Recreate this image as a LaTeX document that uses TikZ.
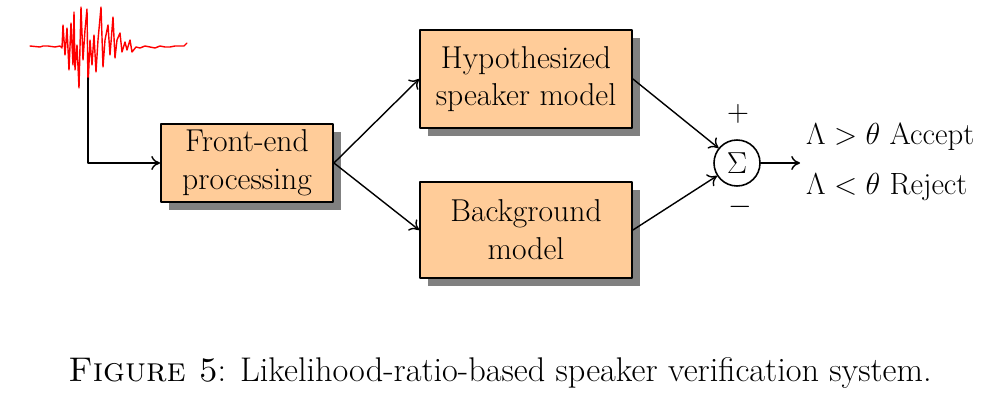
\documentclass[tikz,border=0pt]{standalone}
\usepackage{amsmath}
\usepackage{tikz}
\usetikzlibrary{arrows,arrows.meta,shadows}
\definecolor{peach}{rgb}{1,0.8,0.6}
\definecolor{shade}{rgb}{0.5,0.5,0.5}

\begin{document}
\begin{tikzpicture}[line cap=round,line join=round,>={To[length=5pt,width=8pt]},x=0.02cm,y=-0.02cm,
  blockbox/.style={draw,line width=1.1pt,fill=peach,align=center,inner sep=0pt,
    font=\fontsize{18}{21.5}\selectfont,
    drop shadow={opacity=1,fill=shade,shadow xshift=0.16cm,shadow yshift=-0.16cm}},
  conn/.style={->,line width=0.8pt}]
\useasboundingbox (0,0) rectangle (1000,402);
\draw[line width=0.8pt,color=red] plot coordinates {(30,46) (40,47) (43,46) (48,46) (55,47) (60,46) (62,48) (63,25) (65,55) (67,28) (69,70) (71,23) (73,65) (74,12) (75,70) (77,45) (79,88) (81,7) (83,60) (85,30) (87,9) (88,87) (90,40) (92,65) (94,35) (96,72) (98,40) (101,7) (103,67) (105,40) (108,25) (110,55) (113,17) (115,58) (117,40) (120,33) (122,52) (125,42) (127,50) (130,40) (132,52) (136,47) (140,48) (145,46) (150,47) (155,48) (160,46) (165,47) (170,47) (175,46) (180,46) (184,46) (187,43)};
\coordinate (wave) at (88,78);
\node[blockbox,minimum width=3.44cm,minimum height=1.56cm] (front) at (247,163) {Front-end\\processing};
\node[blockbox,minimum width=4.24cm,minimum height=1.96cm] (hyp) at (526,79) {Hypothesized\\speaker model};
\node[blockbox,minimum width=4.24cm,minimum height=1.92cm] (bg) at (526,230) {Background\\model};
\node[draw,circle,line width=0.9pt,minimum size=0.92cm,inner sep=0pt,font=\fontsize{18}{21}\selectfont] (sum) at (737,163) {$\Sigma$};
\node[font=\fontsize{18}{21}\selectfont] (plus) at (738,114) {$+$};
\node[font=\fontsize{18}{21}\selectfont] (minus) at (740,207) {$-$};
\coordinate (out) at (800,163);
\node[anchor=west,font=\fontsize{17.5}{21}\selectfont] (accept) at (800,137) {$\Lambda > \theta$ Accept};
\node[anchor=west,font=\fontsize{17.5}{21}\selectfont] (reject) at (800,187) {$\Lambda < \theta$ Reject};
\draw [conn] (wave) |- (front.west);
\draw [conn] (front.east) -- (hyp.west);
\draw [conn] (front.east) -- (bg.west);
\draw [conn] (hyp.east) -- (sum);
\draw [conn] (bg.east) -- (sum);
\draw [conn] (sum.east) -- (out);
\node[font=\fontsize{19.5}{23}\selectfont] (caption) at (500,373) {\textsc{Figure 5}: Likelihood-ratio-based speaker verification system.};
\end{tikzpicture}
\end{document}
